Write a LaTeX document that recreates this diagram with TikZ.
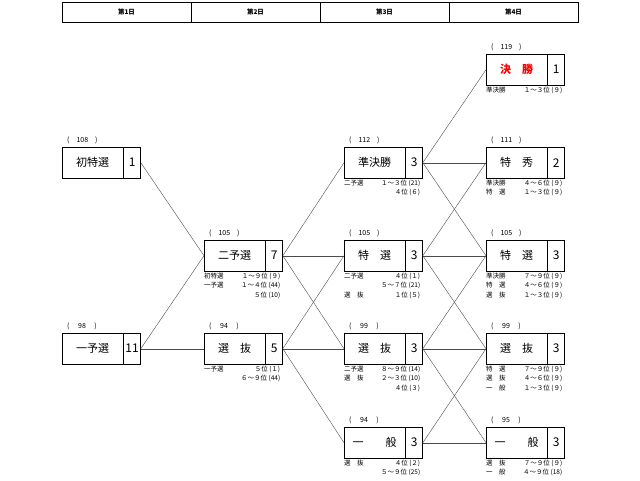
\documentclass[tikz,border=0pt]{standalone}
\usepackage{fontspec}
\setmainfont{Noto Sans CJK JP}
\usetikzlibrary{positioning}
\tikzset{
  lab/.style={draw, anchor=north west, minimum width=61pt, minimum height=31pt, inner sep=0pt, font=\fontsize{11}{11}\selectfont},
  num/.style={draw, minimum width=17pt, minimum height=31pt, inner sep=0pt, font=\fontsize{12}{12}\selectfont},
  cnt/.style={anchor=south west, inner sep=0pt, font=\fontsize{7}{7}\selectfont},
  note/.style={anchor=north west, inner sep=0pt, font=\fontsize{6.5}{9.5}\selectfont},
  day/.style={font=\fontsize{6.5}{7}\selectfont\bfseries},
  link/.style={draw, line width=0.4pt, gray!60!black}
}
\newcommand{\notes}[1]{\begin{tabular*}{76pt}{@{}l@{\extracolsep{\fill}}r@{}}#1\end{tabular*}}
\begin{document}
\begin{tikzpicture}[x=1pt,y=-1pt]
\useasboundingbox (0,0) rectangle (640,480);
% header
\draw (62,2) rectangle (578,22);
\foreach \x in {191,320,449} \draw (\x,2) -- (\x,22);
\node[day] (d1) at (126.5,12) {第1日};
\node[day] (d2) at (255.5,12) {第2日};
\node[day] (d3) at (384.5,12) {第3日};
\node[day] (d4) at (513.5,12) {第4日};
% day 1
\node[lab] (a1) at (62,147) {初特選};
\node[num, right=0pt of a1] (a1n) {1};
\node[cnt] at (67,144) {(\quad 108\quad )};
\node[lab] (a2) at (62,333) {一予選};
\node[num, right=0pt of a2] (a2n) {11};
\node[cnt] at (67,330) {(\quad\ 98\quad\ )};
% day 2
\node[lab] (b1) at (204,240) {二予選};
\node[num, right=0pt of b1] (b1n) {7};
\node[cnt] at (209,237) {(\quad 105\quad )};
\node[note] at (b1.south west) {\notes{初特選&１～９位 (９)\\一予選&１～４位 (44)\\&５位 (10)}};
\node[lab] (b2) at (204,333) {選　抜};
\node[num, right=0pt of b2] (b2n) {5};
\node[cnt] at (209,330) {(\quad\ 94\quad\ )};
\node[note] at (b2.south west) {\notes{一予選&５位 (１)\\&６～９位 (44)}};
% day 3
\node[lab] (c1) at (344,147) {準決勝};
\node[num, right=0pt of c1] (c1n) {3};
\node[cnt] at (349,144) {(\quad 112\quad )};
\node[note] at (c1.south west) {\notes{二予選&１～３位 (21)\\&４位 (６)}};
\node[lab] (c2) at (344,240) {特　選};
\node[num, right=0pt of c2] (c2n) {3};
\node[cnt] at (349,237) {(\quad 105\quad )};
\node[note] at (c2.south west) {\notes{二予選&４位 (１)\\&５～７位 (21)\\選　抜&１位 (５)}};
\node[lab] (c3) at (344,333) {選　抜};
\node[num, right=0pt of c3] (c3n) {3};
\node[cnt] at (349,330) {(\quad\ 99\quad\ )};
\node[note] at (c3.south west) {\notes{二予選&８～９位 (14)\\選　抜&２～３位 (10)\\&４位 (３)}};
\node[lab] (c4) at (344,427) {一　　般};
\node[num, right=0pt of c4] (c4n) {3};
\node[cnt] at (349,424) {(\quad\ 94\quad\ )};
\node[note] at (c4.south west) {\notes{選　抜&４位 (２)\\&５～９位 (25)}};
% day 4
\node[lab, text=red, font=\fontsize{11}{11}\selectfont\bfseries] (e0) at (486,54) {決　勝};
\node[num, right=0pt of e0] (e0n) {1};
\node[cnt] at (491,51) {(\quad 119\quad )};
\node[note] at (e0.south west) {\notes{準決勝&１～３位 (９)}};
\node[lab] (e1) at (486,147) {特　秀};
\node[num, right=0pt of e1] (e1n) {2};
\node[cnt] at (491,144) {(\quad 111\quad )};
\node[note] at (e1.south west) {\notes{準決勝&４～６位 (９)\\特　選&１～３位 (９)}};
\node[lab] (e2) at (486,240) {特　選};
\node[num, right=0pt of e2] (e2n) {3};
\node[cnt] at (491,237) {(\quad 105\quad )};
\node[note] at (e2.south west) {\notes{準決勝&７～９位 (９)\\特　選&４～６位 (９)\\選　抜&１～３位 (９)}};
\node[lab] (e3) at (486,333) {選　抜};
\node[num, right=0pt of e3] (e3n) {3};
\node[cnt] at (491,330) {(\quad\ 99\quad\ )};
\node[note] at (e3.south west) {\notes{特　選&７～９位 (９)\\選　抜&４～６位 (９)\\一　般&１～３位 (９)}};
\node[lab] (e4) at (486,427) {一　　般};
\node[num, right=0pt of e4] (e4n) {3};
\node[cnt] at (491,424) {(\quad\ 95\quad\ )};
\node[note] at (e4.south west) {\notes{選　抜&７～９位 (９)\\一　般&４～９位 (18)}};
% links
\path[link] (a1n.east) -- (b1.west);
\path[link] (a2n.east) -- (b1.west);
\path[link] (a2n.east) -- (b2.west);
\foreach \s/\t in {b1n/c1,b1n/c2,b1n/c3,b2n/c2,b2n/c3,b2n/c4,
  c1n/e0,c1n/e1,c1n/e2,c2n/e1,c2n/e2,c2n/e3,c3n/e2,c3n/e3,c3n/e4,c4n/e3,c4n/e4}
  \path[link] (\s.east) -- (\t.west);
\end{tikzpicture}
\end{document}
